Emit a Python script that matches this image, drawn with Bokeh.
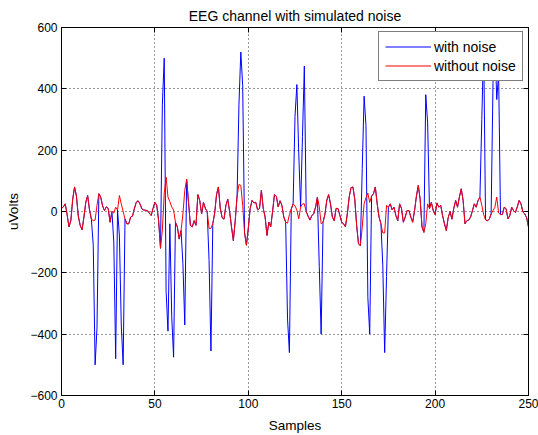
from bokeh.plotting import figure
from bokeh.embed import file_html
from bokeh.resources import INLINE
from bokeh.models import Range1d, FixedTicker, LinearAxis, CustomJSTickFormatter, Legend, LegendItem

# ---- data ----
samples = list(range(0, 251))

without_noise = [
    10, 15, 25, -10, -50, -30, 40, 80, 50, -15,
    -45, -60, -18, 30, 52, 5, -25, -30, -28, 20,
    58, 47, 18, 3, 15, 10, -35, 0, -5, 14,
    5, 52, 25, 0, -24, -40, -40, -18, -15, 9,
    30, 35, 25, 9, 5, 4, 3, -5, -13, 10,
    30, 20, -30, -120, -60, 60, 112, 47, 32, 15,
    5, -35, -50, -90, -62, -8, 69, 105, 30, -45,
    -50, -30, -45, 55, 36, -8, 30, 10, 0, -55,
    -55, -40, -5, 55, 80, 10, -20, -25, 20, 40,
    0, -50, -95, -30, 50, 88, 85, 20, -70, -110,
    -55, 10, 36, 28, 30, 5, 10, 69, 10, -18,
    -78, -35, -50, 0, 55, 50, 15, 35, 20, -18,
    -35, -38, -10, 8, 25, 18, 5, -24, 14, 25,
    25, 0, -15, -28, -13, -8, 14, 47, 15, -40,
    -35, -10, 36, 55, 25, -18, -30, 10, 10, -12,
    -35, -40, -50, -8, 47, 78, 80, 40, -45, -106,
    -111, -51, 25, 45, 60, 30, 50, 58, 80, 25,
    -18, -40, -70, -70, 20, 14, 25, 5, 14, -13,
    -30, 25, 10, -35, -18, 3, 3, -18, -35, 3,
    50, 85, 40, -51, -68, -40, 25, 9, 30, 3,
    -10, 28, 14, 20, -13, -40, -62, -20, 0, -25,
    10, 36, 14, 47, 74, 36, -40, -30, -28, -18,
    3, 25, 14, 36, 47, 20, -10, -27, -30, -25,
    -8, 3, 14, 47, -5, -10, -10, 14, 9, -24,
    -13, 14, 3, -3, 15, 36, 25, -2, -8, -20,
    -51,
]

with_noise = [
    10, 15, 25, -10, -50, -30, 40, 80, 50, -15,
    -45, -60, -18, 30, 52, 5, -25, -110, -500, -380,
    58, 47, 18, 3, 15, 10, -35, 0, -100, -480,
    5, -80, -370, -500, -24, -40, -40, -18, -15, 9,
    30, 35, 25, 9, 5, 4, 3, -5, -13, 10,
    30, 20, -30, -120, 350, 500, -260, -390, -40, -340,
    -475, -35, -50, -90, -62, -170, -370, 105, 30, -45,
    -50, -30, -45, 55, 36, -8, 30, 10, 0, -160,
    -455, -40, -5, 55, 80, 10, -20, -25, 20, 40,
    0, -50, -95, -30, 50, 350, 520, 410, -70, -110,
    -55, 10, 36, 28, 30, 5, 10, 69, 10, -18,
    -78, -35, -50, 0, 55, 50, 15, 35, 20, -18,
    -35, -350, -460, 8, 25, 310, 414, 190, 14, 245,
    474, 0, -15, -28, -13, -8, 14, 47, -180, -400,
    -35, -10, 36, 55, 25, -18, -30, 10, 10, -12,
    -35, -40, -50, -8, 47, 78, 80, 40, -45, -106,
    -111, 140, 376, 280, -280, -400, 50, 58, 80, 25,
    -18, -40, -175, -460, -212, 14, 25, 5, 14, -13,
    -30, 25, 10, -35, -18, 3, 3, -18, -35, 3,
    50, 85, 40, -51, -68, 381, 289, 9, 30, 3,
    -10, 28, 14, 20, -13, -40, -62, -20, 0, -25,
    10, 36, 14, 47, 74, 36, -40, -30, -28, -18,
    3, 25, 14, 36, 47, 300, 550, -27, -30, -25,
    -8, 420, 560, 365, 450, -10, -10, 14, 9, -24,
    -13, 14, 3, -3, 15, 36, 25, -2, -8, -20,
    -51,
]

x_ticks = [0, 50, 100, 150, 200, 250]
y_ticks = [-600, -400, -200, 0, 200, 400, 600]

FONT = "Liberation Sans"

p = figure(width=538, height=435, output_backend="svg", toolbar_location=None,
           x_range=Range1d(0, 250), y_range=Range1d(-600, 600),
           min_border_left=61, min_border_right=10, min_border_top=27, min_border_bottom=40,
           title="EEG channel with simulated noise")

p.title.align = "center"
p.title.text_font = FONT
p.title.text_font_size = "14px"
p.title.text_font_style = "normal"
p.title.text_color = "black"
p.title.offset = 0
p.title.standoff = 7

r_blue = p.line(samples, with_noise, line_color="#0000ff", line_width=1)
r_red = p.line(samples, without_noise, line_color="#ff0000", line_width=1)

for ax in (p.xaxis[0], p.yaxis[0]):
    ax.major_label_text_font = FONT
    ax.major_label_text_font_size = "12px"
    ax.major_label_text_color = "black"
    ax.axis_label_text_font = FONT
    ax.axis_label_text_font_size = "13.5px"
    ax.axis_label_text_font_style = "normal"
    ax.axis_label_text_color = "black"
    ax.major_tick_in = 5
    ax.major_tick_out = 0
    ax.minor_tick_in = 0
    ax.minor_tick_out = 0
    ax.axis_line_color = "black"
    ax.major_tick_line_color = "black"

p.xaxis.ticker = FixedTicker(ticks=x_ticks)
p.yaxis.ticker = FixedTicker(ticks=y_ticks)
p.xaxis.axis_label = "Samples"
p.yaxis.axis_label = "uVolts"
p.xaxis.axis_label_standoff = 7
p.yaxis.axis_label_standoff = 6
p.xaxis.major_label_standoff = 3
p.yaxis.major_label_standoff = 4

# ticks on the top and right edges, as in the box-style frame
empty = CustomJSTickFormatter(code="return ''")
top_ax = LinearAxis(ticker=FixedTicker(ticks=x_ticks), formatter=empty,
                    major_tick_in=5, major_tick_out=0, minor_tick_in=0, minor_tick_out=0,
                    axis_line_color="black", major_label_standoff=0)
right_ax = LinearAxis(ticker=FixedTicker(ticks=y_ticks), formatter=empty,
                      major_tick_in=5, major_tick_out=0, minor_tick_in=0, minor_tick_out=0,
                      axis_line_color="black", major_label_standoff=0)
p.add_layout(top_ax, "above")
p.add_layout(right_ax, "right")

p.xgrid.ticker = FixedTicker(ticks=x_ticks)
p.ygrid.ticker = FixedTicker(ticks=y_ticks)
for g in (p.xgrid[0], p.ygrid[0]):
    g.grid_line_color = "black"
    g.grid_line_dash = "1 3"
    g.grid_line_alpha = 0.8

p.outline_line_color = "black"
p.outline_line_alpha = 1
p.background_fill_color = "white"
p.border_fill_color = "white"

legend = Legend(items=[LegendItem(label="with noise", renderers=[r_blue]),
                       LegendItem(label="without noise", renderers=[r_red])],
                location=(317, 314))
legend.label_text_font = FONT
legend.label_text_font_size = "14px"
legend.label_text_color = "black"
legend.border_line_color = "black"
legend.border_line_width = 1
legend.background_fill_alpha = 1
legend.glyph_width = 46
legend.glyph_height = 17
legend.label_height = 17
legend.spacing = 2
legend.padding = 6
legend.margin = 0
legend.label_standoff = 3
p.add_layout(legend)

open("out.html", "w").write(file_html(p, INLINE))
